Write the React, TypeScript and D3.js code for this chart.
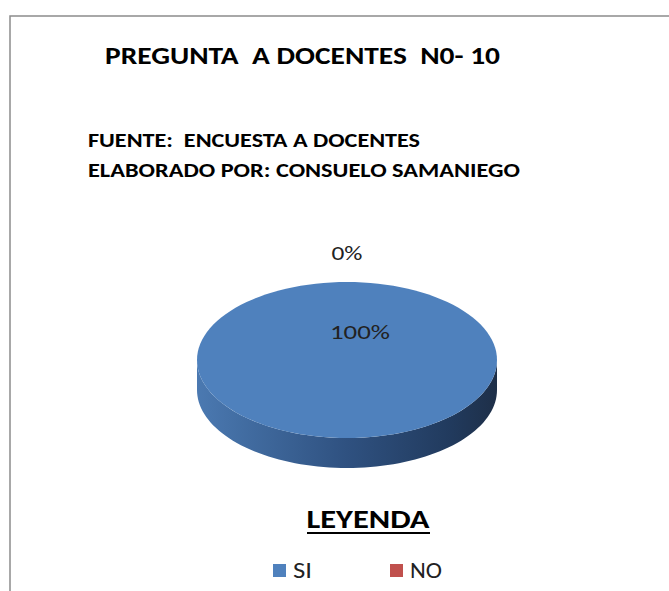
import React from "react";
import * as d3 from "d3";

const categories = ["SI", "NO"];
const values = [100, 0];
const colors = ["#4F81BD", "#C0504D"];
const titleText = "PREGUNTA  A DOCENTES  N0- 10";
const sourceLines = ["FUENTE:  ENCUESTA A DOCENTES", "ELABORADO POR: CONSUELO SAMANIEGO"];
const legendTitle = "LEYENDA";

const W = 669;
const H = 591;
const FONT = "Calibri, Carlito, 'Liberation Sans', Arial, sans-serif";

export default function App() {
  const cx = 347, cy = 360, rx = 150, ry = 78, depth = 30;
  const total = d3.sum(values);
  const pct = d3.format(".0%");
  const arcs = d3.pie<number>().sort(null)(values);

  const pt = (a: number, dy = 0): [number, number] => [cx + rx * Math.sin(a), cy - ry * Math.cos(a) + dy];

  const topPath = (a0: number, a1: number) => {
    if (a1 - a0 <= 1e-9) return "";
    const n = 120;
    const pts = d3.range(n + 1).map((i) => pt(a0 + ((a1 - a0) * i) / n));
    const full = a1 - a0 >= 2 * Math.PI - 1e-6;
    return (full ? "M" : `M${cx},${cy}L`) + pts.map((p) => p.join(",")).join("L") + "Z";
  };

  const sidePath = (a0: number, a1: number) => {
    const s = Math.max(a0, Math.PI / 2);
    const e = Math.min(a1, (3 * Math.PI) / 2);
    if (e - s <= 1e-9) return "";
    const n = 80;
    const top = d3.range(n + 1).map((i) => pt(s + ((e - s) * i) / n));
    const bot = d3.range(n + 1).map((i) => pt(e - ((e - s) * i) / n, depth));
    return "M" + top.concat(bot).map((p) => p.join(",")).join("L") + "Z";
  };

  return (
    <svg width={W} height={H} style={{ display: "block", position: "absolute", left: 0, top: 0 }}>
      <defs>
        <linearGradient id="side" gradientUnits="userSpaceOnUse" x1={cx - rx} y1={0} x2={cx + rx} y2={0}>
          <stop offset="0%" stopColor="#4b79b1" />
          <stop offset="15%" stopColor="#426da2" />
          <stop offset="50%" stopColor="#2f5180" />
          <stop offset="85%" stopColor="#213a5d" />
          <stop offset="100%" stopColor="#1e2f48" />
        </linearGradient>
      </defs>
      <rect x={0} y={0} width={W} height={H} fill="#fff" />
      <rect x={10} y={16} width={W + 20} height={H + 20} fill="#fff" stroke="#8c8c8c" strokeWidth={1.5} />

      <text x={105} y={64} fontFamily={FONT} fontWeight="bold" fontSize={24} fill="#000"
        textLength={395} lengthAdjust="spacingAndGlyphs" style={{ whiteSpace: "pre" }}>{titleText}</text>
      <text x={88} y={147} fontFamily={FONT} fontWeight="bold" fontSize={21} fill="#000"
        textLength={332} lengthAdjust="spacingAndGlyphs" style={{ whiteSpace: "pre" }}>{sourceLines[0]}</text>
      <text x={88} y={177} fontFamily={FONT} fontWeight="bold" fontSize={21} fill="#000"
        textLength={432} lengthAdjust="spacingAndGlyphs" style={{ whiteSpace: "pre" }}>{sourceLines[1]}</text>

      {arcs.map((a, i) => (
        <path key={"s" + i} d={sidePath(a.startAngle, a.endAngle)} fill="url(#side)" />
      ))}
      {arcs.map((a, i) => (
        <path key={"t" + i} d={topPath(a.startAngle, a.endAngle)} fill={colors[i]} />
      ))}

      {arcs.map((a, i) => {
        const v = values[i] / total;
        const small = a.endAngle - a.startAngle < 0.01;
        const lx = small ? cx : cx + 13;
        const ly = small ? cy - ry - 22 : cy - 21;
        return (
          <text key={"l" + i} x={lx} y={ly} textAnchor="middle"
            fontFamily={FONT} fontSize={21} fill="#222"
            textLength={small ? 31 : 60} lengthAdjust="spacingAndGlyphs">{pct(v)}</text>
        );
      })}

      <text x={368} y={528} textAnchor="middle" fontFamily={FONT} fontWeight="bold" fontSize={26}
        fill="#000" textLength={123} lengthAdjust="spacingAndGlyphs">{legendTitle}</text>
      <rect x={307} y={532} width={123} height={2} fill="#000" />

      {categories.map((c, i) => {
        const x0 = 273 + i * 117;
        return (
          <g key={c}>
            <rect x={x0} y={564} width={13} height={13} fill={colors[i]} />
            <text x={x0 + 20} y={578} fontFamily={FONT} fontSize={22} fill="#222"
              textLength={c === "SI" ? 19 : 32} lengthAdjust="spacingAndGlyphs">{c}</text>
          </g>
        );
      })}
    </svg>
  );
}
